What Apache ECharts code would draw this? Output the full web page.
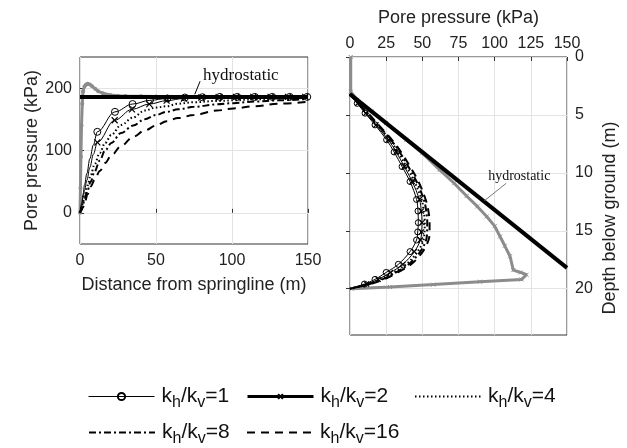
<!DOCTYPE html>
<html><head><meta charset="utf-8">
<script src="https://cdn.jsdelivr.net/npm/echarts@6/dist/echarts.min.js"></script>
<style>html,body{margin:0;padding:0;background:#fff}#c{width:627px;height:448px}</style>
</head><body><div id="c"></div><script>
// ---------- DATA ----------
const seriesNames = ['kh/kv=1', 'kh/kv=2', 'kh/kv=4', 'kh/kv=8', 'kh/kv=16'];

// Left panel: distance from springline (m) vs pore pressure (kPa)
const leftX_r1 = [0, 1, 2, 3, 4.5, 6.5, 8.8, 11.4, 23, 34.6, 46, 57.5, 69, 80.5, 92, 103.5, 115, 126.5, 138, 149.5];
const leftY_r1 = [0, 14, 30, 45, 63, 87, 109, 130, 162, 174.5, 180.5, 183.5, 185, 185.5, 186, 186, 186, 186, 186, 186];
const leftX_r2 = [0, 1, 2, 3, 4.5, 6.5, 8.8, 11.4, 22.8, 34.2, 45.6, 57, 68.4, 79.8, 91.2, 102.6, 114, 125.4, 136.8, 148.2];
const leftY_r2 = [0, 11, 24, 36, 52, 73, 94, 113, 148.5, 166, 174.5, 180, 183.5, 185, 185.5, 186, 186, 186, 186, 186];
const leftX_shared = [0, 1, 2, 3, 5, 7, 9.6, 13, 16.5, 20.6, 27, 35, 42.5, 50, 57, 64.5, 75, 90, 101, 115, 130, 149];
const leftY_r4  = [0, 8, 18, 27, 44, 60, 78, 96, 112, 125, 141, 153, 164, 169, 171, 175, 177.5, 179.5, 180.5, 182, 183.5, 185];
const leftY_r8  = [0, 6, 14, 22, 36, 50, 66, 84, 100, 112, 128, 140, 150, 157, 162, 166, 170, 174, 176, 178.5, 180.5, 182.5];
const leftY_r16 = [0, 4, 9, 15, 30, 42, 53, 67, 80, 92, 107, 122, 132, 140, 147, 152, 157, 164, 167.5, 171, 175, 178];
const leftX_meas = [0, 0.3, 0.6, 1, 1.5, 2, 3, 4, 5, 6.5, 8, 10, 12, 15, 20, 25, 30, 40, 50, 60, 70];
const leftY_meas = [0, 40, 90, 140, 175, 195, 203, 206, 207, 206, 203, 199, 195, 192, 189, 188, 187.5, 187, 186.5, 186.3, 186];
const leftHydroX = [0, 150];
const leftHydroY = [186, 186];

// Right panel: pore pressure (kPa) vs depth below ground (m)
const rightDepth = [3.2, 4, 4.85, 5.86, 7.15, 8.2, 9.46, 10.75, 12.3, 13.3, 14.3, 15.1, 15.8, 16.8, 17.9, 18.6, 19.2, 19.6, 20];
const rightP_r1  = [0, 5, 10.4, 17.3, 25.3, 30.5, 36, 41.5, 46, 47, 47.2, 46.8, 46, 41.5, 33.4, 25, 17.3, 10, 0];
const rightP_r2  = [0, 5.3, 11, 18, 26.5, 32, 37.5, 43, 48, 49.3, 49.8, 49.5, 48.7, 44.5, 36.5, 28, 19.5, 11.5, 0];
const rightP_r4  = [0, 5.5, 11.5, 18.6, 27.5, 33.2, 39, 44.5, 49.5, 51, 51.7, 51.5, 50.8, 46.8, 38.8, 30, 21, 12.5, 0];
const rightP_r8  = [0, 5.7, 12, 19.2, 28.3, 34.3, 40.3, 46, 51, 52.7, 53.4, 53.3, 52.6, 48.6, 40.6, 31.6, 22.3, 13.3, 0];
const rightP_r16 = [0, 5.9, 12.5, 19.8, 29, 35.3, 41.5, 47.3, 52.3, 54.2, 55, 55, 54.3, 50.3, 42.3, 33, 23.5, 14, 0];
const rightP_meas = [0.5, 0.5, 5, 15, 25, 39, 50, 62, 72, 80.6, 88, 94.5, 100, 103.7, 107, 110.6, 112.9, 118, 122, 118.6, 89.8, 57.6, 27.6, 1.2];
const rightD_meas = [0, 3.0, 3.7, 4.7, 5.7, 7.15, 8.3, 9.74, 10.9, 12.0, 12.9, 13.77, 14.6, 15.5, 16.3, 17.2, 18.4, 18.6, 18.8, 19.2, 19.4, 19.65, 19.85, 20];
const rightHydroP = [0, 150];
const rightHydroD = [3.2, 18.2];

// Axis ticks
const leftXTicks = [0, 50, 100, 150];
const leftYTicks = [0, 100, 200];
const rightXTicks = [0, 25, 50, 75, 100, 125, 150];
const rightYTicks = [0, 5, 10, 15, 20];

// ---------- BUILD ----------
const zip = (a, b) => a.map((v, i) => [v, b[i]]);
const FONT = 'Liberation Sans, Arial, sans-serif';
const XMARK = 'path://M0,0L10,10M10,0L0,10';
const chart = echarts.init(document.getElementById('c'), null, { renderer: 'canvas' });

const NOFILL = { color: 'rgba(0,0,0,0)', borderColor: 'rgba(0,0,0,0)', borderWidth: 0 };
const styles = [
  { lineStyle: { color: '#000', width: 1, type: 'solid' }, symbol: 'circle', itemStyle: { color: 'rgba(255,255,255,0)', borderColor: '#000', borderWidth: 1 } },
  { lineStyle: { color: '#000', width: 1, type: 'solid' }, symbol: XMARK, itemStyle: { color: 'rgba(0,0,0,0)', borderColor: '#000', borderWidth: 1.2 } },
  { lineStyle: { color: '#000', width: 2, type: [1.5, 2.5] }, symbol: 'none', itemStyle: NOFILL },
  { lineStyle: { color: '#000', width: 2, type: [7, 3, 2, 3] }, symbol: 'none', itemStyle: NOFILL },
  { lineStyle: { color: '#000', width: 2, type: [8, 6] }, symbol: 'none', itemStyle: NOFILL }
];

const leftData = [zip(leftX_r1, leftY_r1), zip(leftX_r2, leftY_r2), zip(leftX_shared, leftY_r4), zip(leftX_shared, leftY_r8), zip(leftX_shared, leftY_r16)];
const rightPs = [rightP_r1, rightP_r2, rightP_r4, rightP_r8, rightP_r16];

const series = [];
// measured (gray) left
series.push({ name: 'measured', type: 'line', xAxisIndex: 0, yAxisIndex: 0, data: zip(leftX_meas, leftY_meas),
  lineStyle: { color: '#8c8c8c', width: 3 }, symbol: 'circle', symbolSize: 4, itemStyle: { color: '#8c8c8c' }, z: 2, animation: false });
// measured (gray) right
series.push({ name: 'measured', type: 'line', xAxisIndex: 1, yAxisIndex: 1, data: zip(rightP_meas, rightD_meas),
  lineStyle: { color: '#8c8c8c', width: 3 }, symbol: XMARK, symbolSize: 4, itemStyle: { color: 'rgba(0,0,0,0)', borderColor: '#8c8c8c', borderWidth: 1 }, z: 2, animation: false });

seriesNames.forEach((name, i) => {
  const st = styles[i];
  series.push(Object.assign({ name, type: 'line', xAxisIndex: 0, yAxisIndex: 0, data: leftData[i], smooth: 0.35, smoothMonotone: 'x',
    symbolSize: (v) => (st.symbol !== 'none' && v[0] >= 11 ? (i === 0 ? 7 : 6) : 0), showAllSymbol: true, z: 3, animation: false }, st));
  series.push(Object.assign({ name, type: 'line', xAxisIndex: 1, yAxisIndex: 1, data: zip(rightPs[i], rightDepth), smooth: 0.35,
    symbolSize: (v, p) => (st.symbol !== 'none' && p.dataIndex > 0 && p.dataIndex < rightDepth.length - 1 ? (i === 0 ? 6 : 5) : 0), showAllSymbol: true, z: 3, animation: false }, st));
});

// hydrostatic lines
series.push({ name: 'hydrostatic', type: 'line', xAxisIndex: 0, yAxisIndex: 0, data: zip(leftHydroX, leftHydroY), symbol: 'none',
  lineStyle: { color: '#000', width: 4 }, z: 4, animation: false,
  markLine: { silent: true, symbol: ['none', 'arrow'], symbolSize: [0, 7], label: { show: false },
    lineStyle: { color: '#000', width: 1, type: 'solid' }, data: [[{ coord: [79, 211] }, { coord: [75.5, 190] }]], animation: false } });
series.push({ name: 'hydrostatic', type: 'line', xAxisIndex: 1, yAxisIndex: 1, data: zip(rightHydroP, rightHydroD), symbol: 'none',
  lineStyle: { color: '#000', width: 4 }, z: 4, animation: false,
  markLine: { silent: true, symbol: ['none', 'none'], label: { show: false },
    lineStyle: { color: '#777', width: 1, type: 'solid' }, data: [[{ coord: [108, 10.9] }, { coord: [93, 12.4] }]], animation: false } });

const axisLabelStyle = { color: '#222', fontSize: 16, fontFamily: FONT };
const splitLine = { show: true, lineStyle: { color: '#e3e3e3', width: 1 } };

const legendPos = [
  { left: 88, top: 386 }, { left: 246, top: 386 }, { left: 414, top: 386 },
  { left: 88, top: 422 }, { left: 246, top: 422 }
];
const legendLine = [{ width: 1 }, { width: 3 }, { width: 2 }, { width: 2 }, { width: 2 }];
const legendMarkH = [9, 6, 9, 9, 9];
const legends = seriesNames.map((name, i) => ({
  data: [{ name, lineStyle: legendLine[i] }],
  left: legendPos[i].left, top: legendPos[i].top, itemWidth: 66, itemHeight: legendMarkH[i], itemGap: 0, padding: 0,
  selectedMode: false,
  formatter: (n) => { const m = n.match(/kh\/kv=(\d+)/); return 'k{s|h}/k{s|v}=' + m[1]; },
  textStyle: { color: '#111', fontSize: 21, fontFamily: FONT, padding: [0, 0, 0, 2],
    rich: { s: { fontSize: 16, fontFamily: FONT, color: '#111', padding: [13, 0, 0, 0] } } }
}));

const option = {
  backgroundColor: '#fff',
  animation: false,
  grid: [
    { left: 80, top: 57, width: 228, height: 187, show: true, borderColor: '#333', borderWidth: 1, backgroundColor: 'transparent' },
    { left: 350, top: 57, width: 217, height: 278, show: true, borderColor: '#333', borderWidth: 1, backgroundColor: 'transparent' }
  ],
  legend: legends,
  xAxis: [
    { type: 'value', gridIndex: 0, min: 0, max: 150, interval: 50, name: 'Distance from springline (m)', nameLocation: 'middle', nameGap: 32,
      nameTextStyle: { color: '#222', fontSize: 18, fontFamily: FONT },
      axisLine: { show: false }, axisTick: { show: true, inside: true, length: 4, lineStyle: { color: '#333' } },
      axisLabel: Object.assign({ margin: 9, customValues: leftXTicks }, axisLabelStyle), splitLine },
    { type: 'value', gridIndex: 1, position: 'top', min: 0, max: 150, interval: 25, name: 'Pore pressure (kPa)', nameLocation: 'middle', nameGap: 30,
      nameTextStyle: { color: '#222', fontSize: 18, fontFamily: FONT },
      axisLine: { show: false }, axisTick: { show: true, inside: true, length: 4, lineStyle: { color: '#333' } },
      axisLabel: Object.assign({ margin: 5, customValues: rightXTicks }, axisLabelStyle), splitLine }
  ],
  yAxis: [
    { type: 'value', gridIndex: 0, min: -50, max: 250, name: 'Pore pressure (kPa)', nameLocation: 'middle', nameGap: 38,
      nameTextStyle: { color: '#222', fontSize: 18, fontFamily: FONT },
      axisLine: { show: false }, axisTick: { show: true, inside: true, length: 4, customValues: leftYTicks, lineStyle: { color: '#333' } },
      axisLabel: Object.assign({ margin: 8, customValues: leftYTicks }, axisLabelStyle), splitLine },
    { type: 'value', gridIndex: 1, position: 'right', inverse: true, min: 0, max: 24, name: 'Depth below ground (m)', nameLocation: 'middle', nameGap: 34,
      nameRotate: 90,
      nameTextStyle: { color: '#222', fontSize: 18, fontFamily: FONT, padding: [0, 44, 0, 0] },
      axisLine: { show: false }, axisTick: { show: true, inside: true, length: 4, customValues: rightYTicks, lineStyle: { color: '#333' } },
      axisLabel: Object.assign({ margin: 8, customValues: rightYTicks }, axisLabelStyle), splitLine }
  ],
  series
};
chart.setOption(option);

// annotation texts placed through the axes' scales
const pL = chart.convertToPixel({ gridIndex: 0 }, [81, 219.5]);
const pR = chart.convertToPixel({ gridIndex: 1 }, [95.5, 10.3]);
chart.setOption({ graphic: [
  { type: 'text', x: pL[0], y: pL[1], style: { text: 'hydrostatic', font: '17px "Liberation Serif", "Times New Roman", serif', fill: '#111', verticalAlign: 'middle', align: 'left' }, z: 100 },
  { type: 'text', x: pR[0], y: pR[1], style: { text: 'hydrostatic', font: '14px "Liberation Serif", "Times New Roman", serif', fill: '#111', verticalAlign: 'middle', align: 'left' }, z: 100 }
] });
</script></body></html>
